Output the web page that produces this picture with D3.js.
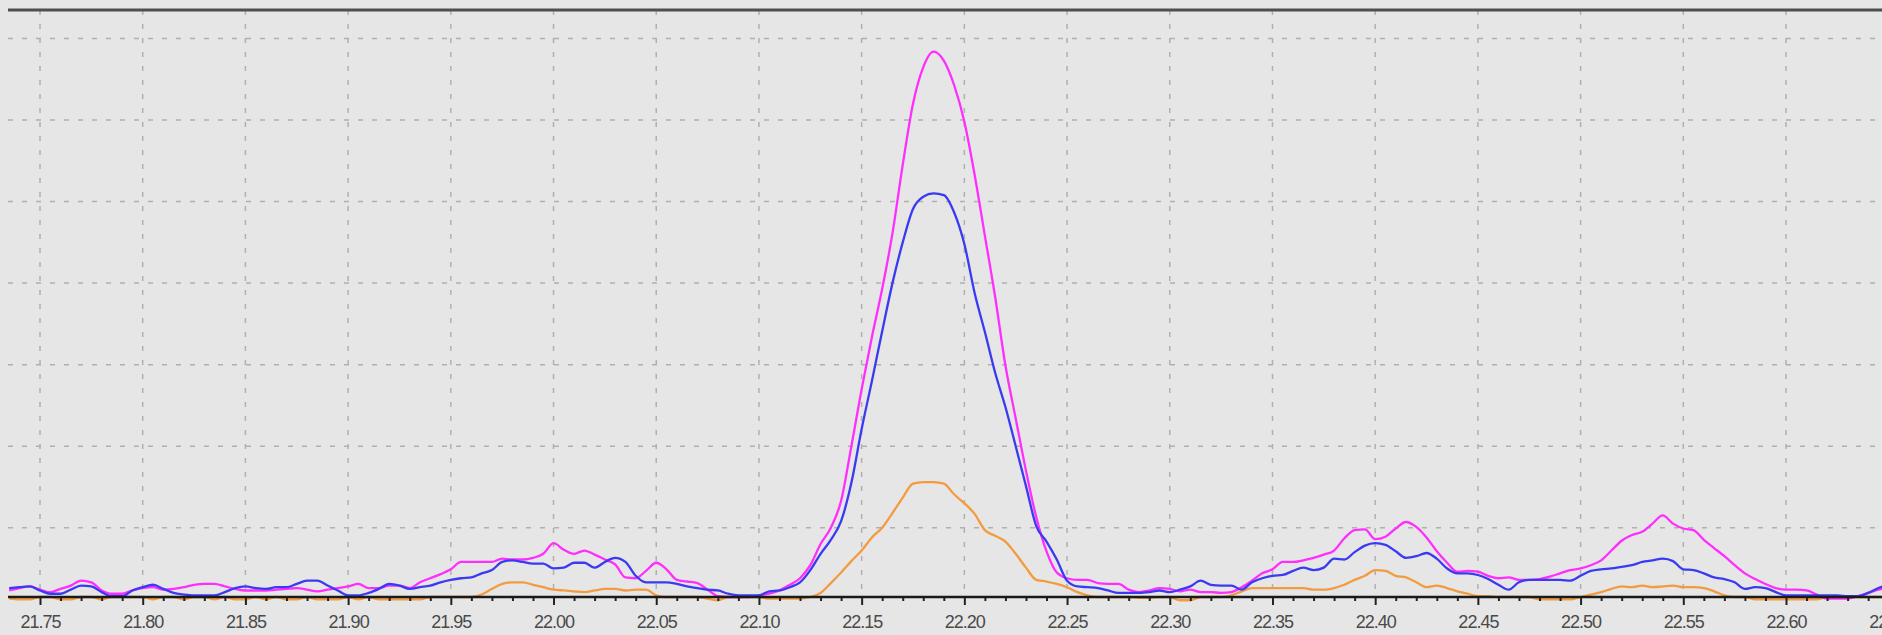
<!DOCTYPE html>
<html>
<head>
<meta charset="utf-8">
<script src="https://cdn.jsdelivr.net/npm/d3@7"></script>
<style>
  body { margin: 0; background: #e6e6e6; overflow: hidden; }
  .xaxis text { font-family: "Liberation Sans", Arial, sans-serif; font-size: 18px; letter-spacing: -1px; fill: #4a4a4a; }
</style>
</head>
<body>
<div id="chart"></div>
<script>
// samples start at t0 and are dt apart (retention time)
var t0 = 21.735, dt = 0.005;

var magenta = [
  0.8,1.1,1.3,0.9,0.6,1.0,1.4,2.0,1.8,0.8,
  0.4,0.4,0.8,1.1,1.2,0.9,1.0,1.2,1.5,1.6,
  1.6,1.3,1.0,0.8,0.8,0.8,0.9,1.0,1.1,0.9,
  0.7,0.9,1.1,1.3,1.6,1.1,1.1,1.4,1.4,1.1,
  1.8,2.3,2.8,3.4,4.3,4.3,4.3,4.3,4.7,4.6,
  4.6,4.8,5.3,6.6,5.8,5.3,5.7,5.2,4.6,4.0,
  2.4,2.3,3.2,4.2,3.4,2.1,1.9,1.7,0.9,0.1,
  0,0,0,0.2,0.4,0.8,1.5,2.3,3.9,6.5,
  8.5,11.8,18.5,25.5,31.9,37.8,44.6,53.0,60.5,65.0,
  66.9,65.8,62.8,58.3,51.8,44.3,36.8,28.4,21.9,15.5,
  9.8,5.6,3.0,2.3,2.1,2.1,1.7,1.6,1.6,0.9,
  0.6,0.8,1.1,1.0,0.7,0.9,0.6,0.6,0.5,0.6,
  1.2,2.0,2.9,3.4,4.3,4.3,4.5,4.8,5.2,5.7,
  7.2,8.2,8.3,7.1,7.4,8.4,9.2,8.6,7.3,5.6,
  4.2,3.1,3.2,3.1,2.6,2.3,2.4,2.1,2.1,2.2,
  2.5,2.9,3.3,3.5,3.9,4.5,5.7,6.9,7.6,8.0,
  9.0,10.0,9.0,8.4,8.2,7.0,6.0,5.0,3.9,2.9,
  2.2,1.6,1.1,0.9,0.9,0.8,0.3,-0.2,-0.2,-0.2,
  0.1,0.5,0.9,1.2
];

var blue = [
  1.1,1.2,1.3,0.8,0.4,0.4,0.9,1.4,1.3,0.6,
  0.1,0.1,0.8,1.2,1.5,1.0,0.5,0.3,0.2,0.2,
  0.2,0.6,1.1,1.3,1.1,1.0,1.2,1.2,1.6,2.0,
  2.0,1.4,0.8,0.2,0.2,0.5,1.0,1.6,1.4,1.0,
  1.2,1.4,1.8,2.1,2.3,2.4,2.9,3.3,4.3,4.5,
  4.3,4.1,4.1,3.5,3.6,4.2,4.2,3.6,4.3,4.8,
  4.3,2.6,1.8,1.8,1.8,1.6,1.3,1.1,0.9,0.8,
  0.4,0.2,0.2,0.2,0.7,0.8,1.2,1.8,3.3,5.3,
  7.0,9.3,14.0,20.6,26.5,32.6,38.5,43.5,47.6,49.1,
  49.5,49.3,47.2,43.3,37.3,32.5,27.5,23.3,18.5,13.6,
  8.7,6.8,4.6,2.0,1.3,1.2,1.1,0.8,0.5,0.5,
  0.5,0.6,0.8,0.6,0.9,1.3,2.0,1.5,1.4,1.4,
  0.9,1.8,2.3,2.6,2.7,3.2,3.6,3.3,3.6,4.7,
  4.6,5.5,6.3,6.6,6.4,5.6,4.8,5.0,5.4,4.7,
  3.5,2.9,2.9,2.7,2.2,1.5,0.9,1.8,2.1,2.1,
  2.1,2.1,2.0,2.6,3.2,3.4,3.5,3.7,3.9,4.3,
  4.5,4.7,4.4,3.4,3.3,2.9,2.4,2.2,1.8,1.0,
  1.2,1.1,0.6,0.2,0.2,0.2,0.2,0.2,0.2,0.1,
  0.1,0.5,1.1,1.5
];

var orange = [
  -0.2,-0.3,-0.3,0,0,-0.3,-0.3,0,0,-0.3,
  0,0,0,0,-0.3,0,0,-0.3,0,0,
  -0.3,0,-0.3,-0.3,0,-0.3,0,-0.3,-0.3,0,
  -0.3,-0.3,-0.3,0,-0.3,0,-0.3,-0.3,-0.3,-0.3,
  -0.3,0,0,0,0,0,0.3,1.0,1.6,1.8,
  1.8,1.5,1.2,0.9,0.8,0.7,0.6,0.8,1.0,1.0,
  0.8,0.9,0.9,0.2,0,0,0,0,-0.2,-0.4,
  0,0,0,0,-0.2,-0.2,-0.2,-0.2,0,0.5,
  1.7,3.0,4.4,5.7,7.3,8.5,10.3,12.2,13.9,14.1,
  14.1,13.9,12.6,11.5,10.2,8.2,7.5,6.8,5.3,3.6,
  2.1,1.9,1.6,1.2,0.6,0.2,0,0,0,0,
  -0.1,-0.1,0,0,-0.4,-0.4,0,0,0,0.2,
  0.7,1.1,1.1,1.1,1.1,1.1,1.1,0.9,0.9,1.1,
  1.5,2.1,2.6,3.3,3.2,2.6,2.4,1.8,1.2,1.4,
  1.1,0.7,0.4,0.1,0.1,0,0,0,0,-0.3,
  -0.3,-0.3,-0.3,0,0.3,0.6,1.0,1.3,1.2,1.4,
  1.2,1.3,1.4,1.2,1.2,1.1,0.7,0.2,0,0,
  -0.3,-0.3,-0.3,-0.3,-0.3,-0.3,-0.3,0,0,0,
  0,0,0,0
];

var xLabels = [21.75,21.80,21.85,21.90,21.95,22.00,22.05,22.10,22.15,22.20,
               22.25,22.30,22.35,22.40,22.45,22.50,22.55,22.60,22.65];
var xMinor = [];
xLabels.forEach(function(v) { for (var k = 1; k < 5; k++) xMinor.push(v + k * 0.01); });
var yGrid = [8.5, 18.5, 28.5, 38.5, 48.5, 58.5, 68.5];

var width = 1882, height = 635;
var plotLeft = 8, plotTop = 10, plotBottom = 597;

var svg = d3.select("#chart").append("svg")
  .attr("width", width)
  .attr("height", height);

svg.append("rect").attr("width", width).attr("height", height).attr("fill", "#e6e6e6");

var x = d3.scaleLinear().domain([21.75, 22.60]).range([40, 1786]);
var y = d3.scaleLinear().domain([0, 72]).range([plotBottom, plotTop]);

svg.append("clipPath").attr("id", "plot")
  .append("rect").attr("x", plotLeft).attr("y", plotTop)
  .attr("width", width - plotLeft).attr("height", height - plotTop);

// dashed grid
svg.append("g").selectAll("line")
  .data(xLabels).enter().append("line")
  .attr("x1", d => x(d)).attr("x2", d => x(d))
  .attr("y1", plotTop).attr("y2", plotBottom)
  .attr("stroke", "#b0b0b0").attr("stroke-width", 1.5).attr("stroke-dasharray", "5,9");

svg.append("g").selectAll("line")
  .data(yGrid).enter().append("line")
  .attr("x1", plotLeft).attr("x2", width)
  .attr("y1", d => y(d)).attr("y2", d => y(d))
  .attr("stroke", "#b0b0b0").attr("stroke-width", 1.5).attr("stroke-dasharray", "5,9");

// traces
var line = d3.line()
  .x((d, i) => x(t0 + i * dt))
  .y(d => y(d))
  .curve(d3.curveMonotoneX);

var series = [
  {values: orange, color: "#f39b40"},
  {values: magenta, color: "#ff2eff"},
  {values: blue, color: "#3a3af2"}
];

svg.append("g").attr("clip-path", "url(#plot)")
  .selectAll("path")
  .data(series).enter().append("path")
  .attr("fill", "none")
  .attr("stroke", d => d.color)
  .attr("stroke-width", 2.3)
  .attr("stroke-linejoin", "round")
  .attr("d", d => line(d.values));

// top frame
svg.append("line")
  .attr("x1", plotLeft).attr("x2", width)
  .attr("y1", plotTop).attr("y2", plotTop)
  .attr("stroke", "#4e4e4e").attr("stroke-width", 3);

// bottom axis: minor ticks, then labelled major ticks
svg.append("g")
  .attr("transform", "translate(0," + plotBottom + ")")
  .call(d3.axisBottom(x).tickValues(xMinor).tickSize(4).tickFormat(""))
  .call(g => g.select(".domain").remove())
  .selectAll("line").attr("stroke", "#222").attr("stroke-width", 2);

var xAxis = svg.append("g")
  .attr("class", "xaxis")
  .attr("transform", "translate(0," + plotBottom + ")")
  .call(d3.axisBottom(x).tickValues(xLabels).tickSize(8).tickPadding(10).tickFormat(d3.format(".2f")));

xAxis.select(".domain").remove();
xAxis.selectAll(".tick line").attr("stroke", "#222").attr("stroke-width", 2);

svg.append("line")
  .attr("x1", plotLeft).attr("x2", width)
  .attr("y1", plotBottom).attr("y2", plotBottom)
  .attr("stroke", "#1a1a1a").attr("stroke-width", 2.5);
</script>
</body>
</html>
